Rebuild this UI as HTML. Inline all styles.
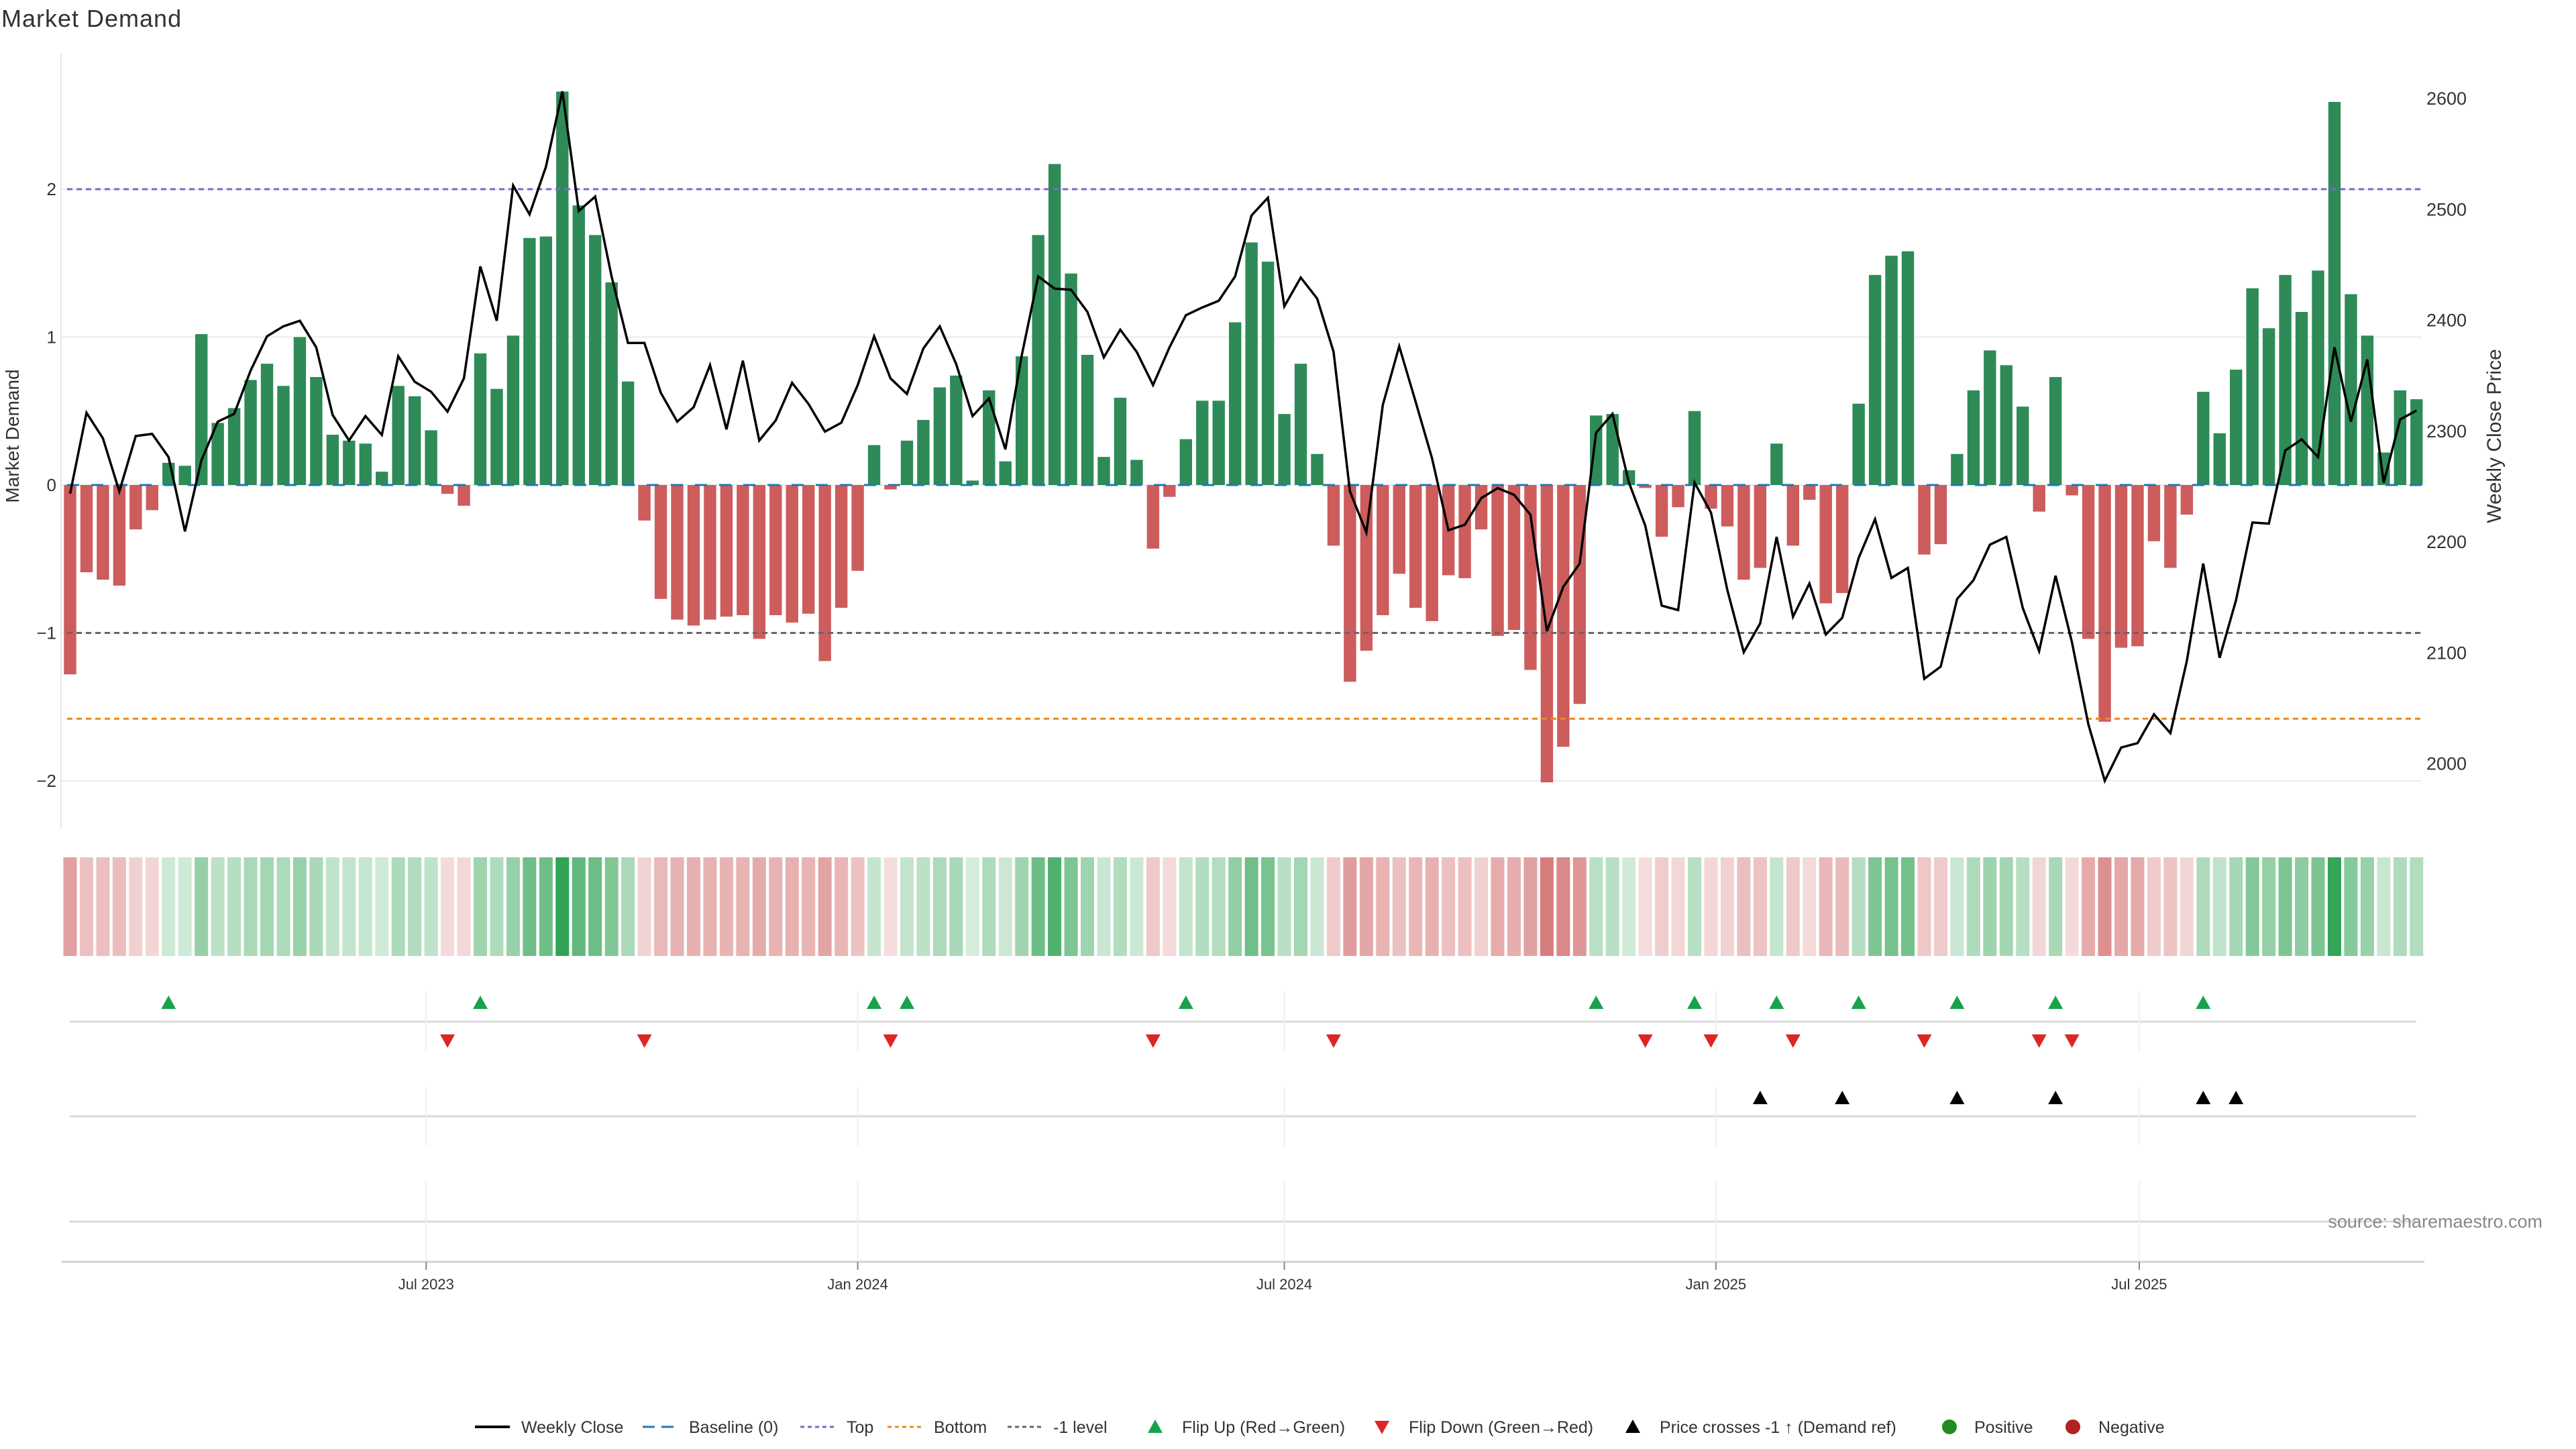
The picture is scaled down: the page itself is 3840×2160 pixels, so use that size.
<!DOCTYPE html>
<html><head><meta charset="utf-8"><style>
html,body{margin:0;padding:0;background:#fff;}
svg{display:block;font-family:"Liberation Sans",sans-serif;}
</style></head><body>
<svg id="chart" width="3840" height="2160" viewBox="0 0 3840 2160" xmlns="http://www.w3.org/2000/svg">
<rect width="3840" height="2160" fill="#fff"/>
<text x="2" y="40" font-size="36" fill="#333" letter-spacing="1">Market Demand</text>
<g id="grid"></g>
<g id="bars"></g>
<g id="refs"></g>
<g id="price"></g>
<g id="heat"></g>
<g id="markers"></g>
<g id="axes"></g>
<text transform="translate(28,650) rotate(-90)" text-anchor="middle" font-size="28" fill="#333">Market Demand</text>
<text transform="translate(3728,650) rotate(-90)" text-anchor="middle" font-size="30" fill="#333">Weekly Close Price</text>
<text x="3790" y="1830" text-anchor="end" font-size="27" fill="#888">source: sharemaestro.com</text>
<g id="legend"></g>
</svg>
<script>
const demand = [-1.28,-0.59,-0.64,-0.68,-0.30,-0.17,0.15,0.13,1.02,0.42,0.52,0.71,0.82,0.67,1.00,0.73,0.34,0.30,0.28,0.09,0.67,0.60,0.37,-0.06,-0.14,0.89,0.65,1.01,1.67,1.68,2.66,1.89,1.69,1.37,0.70,-0.24,-0.77,-0.91,-0.95,-0.91,-0.89,-0.88,-1.04,-0.88,-0.93,-0.87,-1.19,-0.83,-0.58,0.27,-0.03,0.30,0.44,0.66,0.74,0.03,0.64,0.16,0.87,1.69,2.17,1.43,0.88,0.19,0.59,0.17,-0.43,-0.08,0.31,0.57,0.57,1.10,1.64,1.51,0.48,0.82,0.21,-0.41,-1.33,-1.12,-0.88,-0.60,-0.83,-0.92,-0.61,-0.63,-0.30,-1.02,-0.98,-1.25,-2.01,-1.77,-1.48,0.47,0.48,0.10,-0.02,-0.35,-0.15,0.50,-0.16,-0.28,-0.64,-0.56,0.28,-0.41,-0.10,-0.80,-0.73,0.55,1.42,1.55,1.58,-0.47,-0.40,0.21,0.64,0.91,0.81,0.53,-0.18,0.73,-0.07,-1.04,-1.60,-1.10,-1.09,-0.38,-0.56,-0.20,0.63,0.35,0.78,1.33,1.06,1.42,1.17,1.45,2.59,1.29,1.01,0.22,0.64,0.58];
const closes = [2243,2316,2293,2245,2295,2297,2276,2209,2273,2308,2315,2354,2385,2394,2399,2375,2314,2291,2313,2296,2367,2344,2335,2317,2347,2448,2399,2521,2495,2538,2606,2498,2511,2439,2379,2379,2334,2308,2321,2359,2301,2363,2291,2309,2343,2324,2299,2307,2341,2385,2347,2333,2374,2394,2360,2313,2329,2283,2368,2439,2428,2427,2407,2366,2391,2371,2341,2375,2404,2411,2417,2439,2494,2510,2412,2438,2419,2371,2245,2208,2323,2376,2326,2275,2210,2215,2239,2248,2242,2224,2119,2159,2180,2298,2315,2253,2214,2142,2138,2253,2226,2156,2100,2126,2204,2132,2162,2116,2131,2185,2220,2167,2176,2076,2087,2148,2165,2197,2204,2140,2101,2169,2109,2035,1984,2014,2018,2044,2027,2092,2180,2095,2147,2217,2216,2282,2292,2276,2375,2308,2364,2253,2310,2318];
const leftTicks = [-2,-1,0,1,2];
const rightTicks = [2000,2100,2200,2300,2400,2500,2600];
const dateTicks = ["Jul 2023","Jan 2024","Jul 2024","Jan 2025","Jul 2025"];
const dateTickWeeks = [21.7,48.0,74.0,100.3,126.1];
const topLevel = 2.0, bottomLevel = -1.58, minusOne = -1.0;

const NS="http://www.w3.org/2000/svg";
function mk(tag, attrs, parent){const e=document.createElementNS(NS,tag);for(const k in attrs)e.setAttribute(k,attrs[k]);parent.appendChild(e);return e;}
const X0=104.5, DX=24.46;
const xOf=i=>X0+i*DX;
const yL=v=>723-v*220.5;
const yR=p=>146+(2600-p)*1.6525;
const priceOnLeft=v=>2600-(yL(v)-146)/1.6525;

const grid=document.getElementById('grid');
const axes=document.getElementById('axes');
leftTicks.forEach(t=>{
  const g=mk('line',{x1:91,x2:3610,y1:yL(t),y2:yL(t),stroke:'#ebebeb','stroke-width':2},grid);
  
  
  const tx=mk('text',{x:84,y:yL(t)+9,'text-anchor':'end','font-size':26,fill:'#333'},axes);
  tx.textContent=(t<0?'\u2212':'')+Math.abs(t);
  
  
});
rightTicks.forEach(t=>{
  const tx=mk('text',{x:3617,y:yR(t)+10,'font-size':27,fill:'#333'},axes);
  tx.textContent=t;
  
  
});
const la=mk('line',{x1:91,x2:91,y1:80,y2:1235,stroke:'#e6e6e6','stroke-width':2},axes);



const bars=document.getElementById('bars');
demand.forEach((v,i)=>{
  const y0=yL(0), y1=yL(v);
  const r=mk('rect',{x:xOf(i)-9.2,y:Math.min(y0,y1),width:18.4,height:Math.max(1,Math.abs(y1-y0)),fill:v>=0?'#2e8b57':'#cd5c5c'},bars);
  
  
});
const refs=document.getElementById('refs');
function ref(v,color,dash,name){
  const l=mk('line',{x1:100,x2:3610,y1:yL(v),y2:yL(v),stroke:color,'stroke-width':3,'stroke-dasharray':dash},refs);
  
  
}
ref(0,'#1f77b4','18 18','baseline-line');
ref(topLevel,'#7b68c8','8 6','top-line');
ref(bottomLevel,'#e8891e','8 6','bottom-line');
ref(minusOne,'#666','8 6','minus-one-line');
const pl=mk('polyline',{points:closes.map((p,i)=>xOf(i)+','+yR(p)).join(' '),fill:'none',stroke:'#000','stroke-width':3.5,'stroke-linejoin':'miter'},document.getElementById('price'));



const heat=document.getElementById('heat');
const maxAbs=Math.max(...demand.map(Math.abs));
demand.forEach((v,i)=>{
  const a=0.2+0.8*Math.abs(v)/maxAbs;
  const c=v>=0?[49,163,84]:[205,92,92];
  const col='rgb('+c.map(k=>Math.round(255-(255-k)*a)).join(',')+')';
  const r=mk('rect',{x:xOf(i)-10,y:1278,width:20,height:147,fill:col},heat);
  
  
});

const mks=document.getElementById('markers');
[[1523,1478,1567],[1664,1621,1708],[1821,1761,1881]].forEach(p=>{
  const l=mk('line',{x1:104,x2:3602,y1:p[0],y2:p[0],stroke:'#d8d8d8','stroke-width':3},mks);
  
  
  dateTickWeeks.forEach(w=>{
    const g=mk('line',{x1:xOf(w),x2:xOf(w),y1:p[1],y2:p[2],stroke:'#eef0f2','stroke-width':2},mks);
    
    
  });
});
function tri(x,y,up,color,name){
  const pts=up?[[x,y-10],[x-11,y+10],[x+11,y+10]]:[[x,y+10],[x-11,y-10],[x+11,y-10]];
  const t=mk('polygon',{points:pts.map(q=>q.join(',')).join(' '),fill:color},mks);
  
  
}
const priceRef=priceOnLeft(minusOne);
for(let i=1;i<demand.length;i++){
  if(demand[i-1]<0&&demand[i]>=0) tri(xOf(i),1494,true,'#16a34a','flip-up-marker');
  if(demand[i-1]>=0&&demand[i]<0) tri(xOf(i),1552,false,'#dc2626','flip-down-marker');
  if(closes[i-1]<priceRef&&closes[i]>=priceRef) tri(xOf(i),1636,true,'#000','price-cross-marker');
}
const xa=mk('line',{x1:92,x2:3614,y1:1881,y2:1881,stroke:'#d0d0d0','stroke-width':3},axes);


dateTicks.forEach((d,k)=>{
  const x=xOf(dateTickWeeks[k]);
  mk('line',{x1:x,x2:x,y1:1881,y2:1893,stroke:'#888','stroke-width':2},axes);
  const t=mk('text',{x:x,y:1922,'text-anchor':'middle','font-size':22,fill:'#333'},axes);
  t.textContent=d;
  
  
});

const lg=document.getElementById('legend');
const LY=2127;
function ltext(x,s){const t=mk('text',{x:x,y:LY+9,'font-size':25,fill:'#333'},lg);t.textContent=s;}
function lline(x1,color,dash,w){const l=mk('line',{x1:x1,x2:x1+52,y1:LY,y2:LY,stroke:color,'stroke-width':w,'stroke-dasharray':dash},lg);}
lline(708,'#000','none',4);ltext(777,'Weekly Close');
lline(958,'#1f77b4','18 10',3);ltext(1027,'Baseline (0)');
lline(1193,'#7b68c8','6 5',3);ltext(1262,'Top');
lline(1323,'#e8891e','6 5',3);ltext(1392,'Bottom');
lline(1502,'#666','6 5',3);ltext(1570,'-1 level');
function ltri(x,up,color){const pts=up?[[x,LY-11],[x-11,LY+9],[x+11,LY+9]]:[[x,LY+11],[x-11,LY-9],[x+11,LY-9]];const t=mk('polygon',{points:pts.map(q=>q.join(',')).join(' '),fill:color},lg);}
ltri(1722,true,'#16a34a');ltext(1762,'Flip Up (Red\u2192Green)');
ltri(2060,false,'#dc2626');ltext(2100,'Flip Down (Green\u2192Red)');
ltri(2434,true,'#000');ltext(2474,'Price crosses -1 \u2191 (Demand ref)');
const d1=mk('circle',{cx:2906,cy:LY,r:11,fill:'#228b22'},lg);
ltext(2943,'Positive');
const d2=mk('circle',{cx:3090,cy:LY,r:11,fill:'#b22222'},lg);
ltext(3128,'Negative');
</script>
</body></html>
